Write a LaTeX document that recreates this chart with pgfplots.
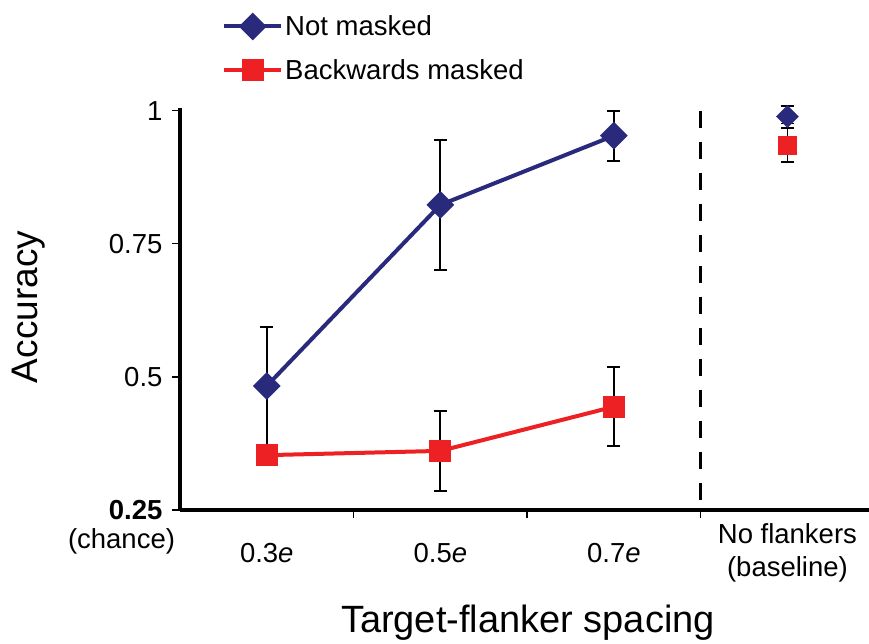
\documentclass[border=0pt]{standalone}
\usepackage{fontspec}
\setmainfont{Liberation Sans}
\usepackage{pgfplots}
\pgfplotsset{compat=1.18}
\definecolor{navy}{RGB}{42,42,124}
\definecolor{rred}{RGB}{237,32,36}
\pgfplotsset{
  myerr/.style={error bars/.cd, y dir=both, y explicit,
    error bar style={black, line width=1.8pt, solid},
    error mark options={rotate=90, mark size=6.5pt, line width=1.8pt, black}},
}
\begin{document}
\begin{tikzpicture}
\useasboundingbox (0,0) rectangle (869pt,644pt);
\begin{axis}[
  at={(180pt,134pt)}, anchor=south west,
  scale only axis, width=689pt, height=402pt,
  xmin=-0.5, xmax=3.47, ymin=0.25, ymax=1.005,
  clip=false,
  axis x line*=bottom, axis y line*=left,
  axis line style={line width=3.2pt, black},
  tick align=outside,
  major tick length=8pt, minor tick length=8pt,
  every tick/.style={black, line width=1.3pt},
  every major x tick/.append style={draw=none},
  xtick={0,1,2,3},
  minor xtick={0.5,1.5,2.5},
  xticklabels={0.3\textit{e},0.5\textit{e},0.7\textit{e},{No flankers\\(baseline)}},
  xticklabel style={align=center, anchor=center, yshift=-35pt, font=\fontsize{27.5}{33}\selectfont},
  ytick={0.25,0.5,0.75,1},
  yticklabels={\textbf{0.25},0.5,0.75,1},
  yticklabel style={font=\fontsize{27.5}{33}\selectfont, xshift=-6pt},
  xlabel={Target-flanker spacing},
  xlabel style={at={(axis description cs:0.505,-0.3035)}, anchor=base, font=\fontsize{38}{44}\selectfont},
  ylabel={Accuracy},
  ylabel style={at={(axis description cs:-0.2075,0.505)}, anchor=base, font=\fontsize{37}{44}\selectfont},
  legend style={at={(axis description cs:0.061,1.235)}, anchor=north west, draw=none, fill=none,
    font=\fontsize{27.5}{33}\selectfont, row sep=18pt, inner sep=0pt,
    nodes={inner sep=2pt}},
  legend cell align=left,
  legend image code/.code={\draw[#1, mark repeat=2, mark phase=2] plot coordinates {(0pt,0pt) (28.5pt,0pt) (57pt,0pt)};},
]
\addplot[navy, line width=4pt, mark=square*, mark size=7.8pt, mark options={rotate=45, navy, draw=none}, myerr]
  coordinates {(0,0.483) +- (0,0.111) (1,0.823) +- (0,0.122) (2,0.953) +- (0,0.047)};
\addlegendentry{Not masked}
\addplot[rred, line width=4pt, mark=square*, mark size=9pt, mark options={rred, draw=none}, myerr]
  coordinates {(0,0.353) +- (0,0.018) (1,0.361) +- (0,0.075) (2,0.444) +- (0,0.074)};
\addlegendentry{Backwards masked}
\addplot[navy, only marks, mark=square*, mark size=7.8pt, mark options={rotate=45, navy, draw=none}, forget plot, myerr]
  coordinates {(3,0.989) += (0,0.019) -= (0,0.013)};
\addplot[rred, only marks, mark=square*, mark size=9pt, mark options={rred, draw=none}, forget plot, myerr]
  coordinates {(3,0.935) +- (0,0.032)};
\draw[black, line width=3.2pt, dash pattern=on 17pt off 14pt] (axis cs:2.5,1.0) -- (axis cs:2.5,0.25);
\node[font=\fontsize{27.5}{33}\selectfont, xshift=-58.5pt, yshift=-31pt] at (axis cs:-0.5,0.25) {(chance)};
\end{axis}
\end{tikzpicture}
\end{document}
